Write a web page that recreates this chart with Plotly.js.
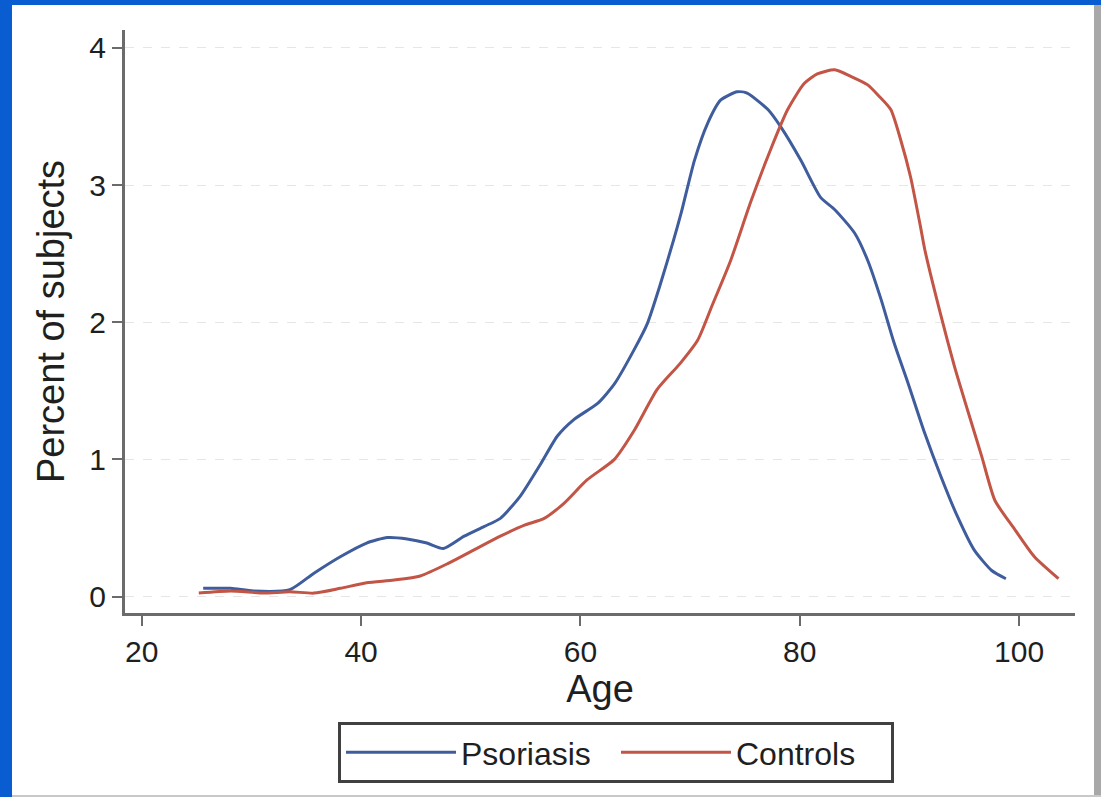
<!DOCTYPE html>
<html>
<head>
<meta charset="utf-8">
<script src="https://cdn.plot.ly/plotly-3.0.1.min.js"></script>
<style>
  html, body { margin: 0; padding: 0; width: 1101px; height: 797px; overflow: hidden; background: #0a5dd0; }
  #panel { position: absolute; left: 12px; top: 5px; width: 1082px; height: 790px; background: #ffffff; }
  #strip { position: absolute; left: 1094px; top: 5px; width: 7px; height: 792px; background: #a8a8a8; }
  #bottom { position: absolute; left: 12px; top: 795px; width: 1089px; height: 2px; background: #c8c8c8; }
  #chart { position: absolute; left: 12px; top: 5px; width: 1082px; height: 790px; }
</style>
</head>
<body>
<div id="panel"></div>
<div id="strip"></div>
<div id="bottom"></div>
<div id="chart"></div>
<script>
// Psoriasis
const psoriasisAge = [25.6, 28.1, 30.2, 33.5, 35.7, 38.1, 40.5, 42.4, 44.2, 46.0, 47.5, 49.4, 51.2, 52.7, 54.5, 56.4, 57.9, 59.4, 61.6, 63.1, 64.9, 66.1, 67.3, 68.5, 69.2, 70.4, 71.6, 72.8, 74.3, 75.2, 77.1, 78.3, 80.1, 81.9, 83.2, 85.0, 86.2, 87.4, 88.6, 89.9, 91.4, 92.9, 94.4, 95.9, 97.5, 98.8];
const psoriasisPct = [0.06, 0.06, 0.04, 0.05, 0.17, 0.29, 0.39, 0.43, 0.42, 0.39, 0.35, 0.44, 0.51, 0.57, 0.73, 0.97, 1.17, 1.29, 1.41, 1.55, 1.80, 1.99, 2.28, 2.60, 2.80, 3.18, 3.45, 3.62, 3.68, 3.67, 3.55, 3.42, 3.18, 2.91, 2.82, 2.65, 2.45, 2.17, 1.85, 1.55, 1.19, 0.87, 0.58, 0.34, 0.19, 0.13];
// Controls
const controlsAge = [25.2, 28.1, 31.1, 33.5, 35.7, 38.1, 40.5, 43.0, 45.4, 47.9, 50.3, 52.7, 54.9, 56.7, 58.5, 60.6, 63.1, 64.9, 67.0, 69.1, 70.7, 72.0, 73.7, 75.5, 77.3, 78.9, 80.4, 81.6, 83.2, 84.7, 86.2, 87.2, 88.3, 89.2, 90.1, 91.0, 91.4, 92.9, 94.1, 95.3, 96.6, 97.8, 99.6, 101.4, 103.6];
const controlsPct = [0.025, 0.04, 0.025, 0.035, 0.025, 0.06, 0.10, 0.12, 0.15, 0.24, 0.34, 0.44, 0.52, 0.57, 0.68, 0.85, 1.00, 1.21, 1.51, 1.70, 1.87, 2.12, 2.45, 2.87, 3.25, 3.55, 3.74, 3.81, 3.84, 3.79, 3.73, 3.65, 3.55, 3.33, 3.06, 2.70, 2.53, 2.04, 1.68, 1.36, 1.02, 0.70, 0.49, 0.29, 0.13];

const seriesNames = ["Psoriasis", "Controls"];
const xTicks = [20, 40, 60, 80, 100];
const yTicks = [0, 1, 2, 3, 4];

const FONT = "Liberation Sans, Arial, Helvetica, sans-serif";
const TXT = "#1f1f1f";

const traces = [
  { x: psoriasisAge, y: psoriasisPct, name: seriesNames[0], type: "scatter", mode: "lines",
    line: { color: "#3f5d9c", width: 3, shape: "spline", smoothing: 0.6 } },
  { x: controlsAge, y: controlsPct, name: seriesNames[1], type: "scatter", mode: "lines",
    line: { color: "#c25545", width: 3, shape: "spline", smoothing: 0.6 } }
];

const layout = {
  width: 1082, height: 790,
  paper_bgcolor: "rgba(0,0,0,0)", plot_bgcolor: "#ffffff",
  margin: { l: 113, r: 19, t: 25, b: 182 },
  font: { family: FONT, color: TXT },
  xaxis: {
    range: [18.47, 105.1], tickvals: xTicks, ticktext: xTicks.map(String),
    showline: true, linecolor: "#6b6b6b", linewidth: 3,
    ticks: "outside", ticklen: 10, tickwidth: 2, tickcolor: "#6b6b6b",
    tickfont: { size: 30, color: TXT, family: FONT },
    ticklabelstandoff: 0,
    showgrid: false, zeroline: false,
    title: { text: "Age", font: { size: 38, color: TXT, family: FONT }, standoff: 8 }
  },
  yaxis: {
    range: [-0.12, 4.13], tickvals: yTicks, ticktext: yTicks.map(String),
    showline: true, linecolor: "#6b6b6b", linewidth: 3,
    ticks: "outside", ticklen: 10, tickwidth: 2, tickcolor: "#6b6b6b",
    tickfont: { size: 30, color: TXT, family: FONT },
    ticklabelstandoff: 0,
    showgrid: true, gridcolor: "#e6e6e6", gridwidth: 1, griddash: "dash",
    zeroline: false,
    title: { text: "Percent of subjects", font: { size: 38, color: TXT, family: FONT }, standoff: 14 }
  },
  showlegend: true,
  legend: {
    orientation: "h", x: 0.2242, xanchor: "left", y: -0.187, yanchor: "top",
    bordercolor: "#404040", borderwidth: 3, bgcolor: "#ffffff",
    font: { size: 32, color: TXT, family: FONT },
    itemwidth: 110, entrywidth: 150, entrywidthmode: "pixels", tracegroupgap: 0
  }
};

Plotly.newPlot("chart", traces, layout, { displayModeBar: false, staticPlot: true });
</script>
</body>
</html>
